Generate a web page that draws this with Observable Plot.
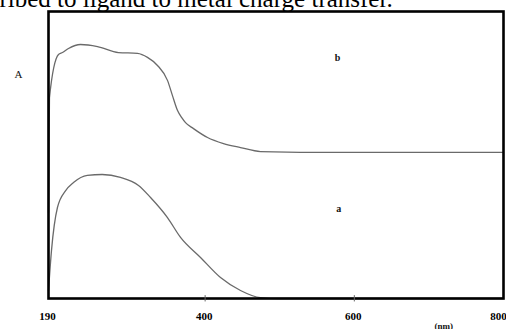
<!DOCTYPE html>
<html>
<head>
<meta charset="utf-8">
<script src="https://cdn.jsdelivr.net/npm/d3@7"></script>
<script src="https://cdn.jsdelivr.net/npm/@observablehq/plot@0.6"></script>
<style>
  html, body { margin: 0; padding: 0; background: #fff; }
  #chart { position: absolute; left: 0; top: 0; }
</style>
</head>
<body>
<div id="chart"></div>
<script>
// Wavelength (nm) and absorbance (arbitrary units)
const curveA_nm = [190, 194, 202, 213, 223.5, 242, 262, 286.5, 310.7, 326.8, 349.5, 367, 393.8, 420.6, 447.4, 474, 500, 800];
const curveA_abs = [0.028, 0.167, 0.317, 0.376, 0.404, 0.429, 0.432, 0.422, 0.394, 0.352, 0.282, 0.213, 0.143, 0.073, 0.028, 0.003, 0, 0];

const curveB_nm = [190, 191.3, 203.4, 208.8, 216.8, 232.9, 255.7, 283.8, 309.3, 322.7, 336.1, 349.5, 356.2, 363, 368.4, 373.7, 384.4, 403.2, 424.6, 447.4, 474.2, 581.5, 800];
const curveB_abs = [0.30, 0.700, 0.850, 0.857, 0.871, 0.885, 0.878, 0.857, 0.854, 0.840, 0.812, 0.760, 0.707, 0.655, 0.631, 0.613, 0.592, 0.561, 0.540, 0.526, 0.512, 0.509, 0.509];

const xTicks = [190, 400, 600, 800];
const seriesLabels = ["a", "b"];
const labelPos_nm = [579, 577.5];
const labelPos_abs = [0.314, 0.84];
const yAxisLabel = "A";
const unitLabel = "(nm)";
const unitPos_nm = 720;
const captionText = "ribed to ligand to metal charge transfer.";

const dataA = curveA_nm.map((x, i) => ({x, y: curveA_abs[i]}));
const dataB = curveB_nm.map((x, i) => ({x, y: curveB_abs[i]}));
const labels = seriesLabels.map((t, i) => ({t, x: labelPos_nm[i], y: labelPos_abs[i]}));

const axisStyle = {tickSize: 0, tickPadding: 14, fontSize: 11, fontWeight: "bold", label: null, tickFormat: d => String(d)};

const chart = Plot.plot({
  width: 506,
  height: 329,
  marginLeft: 48,
  marginRight: 3,
  marginTop: 11,
  marginBottom: 31,
  style: { fontFamily: "Liberation Serif, Times New Roman, serif", background: "#fff", color: "#000", overflow: "hidden" },
  x: { domain: [190, 800] },
  y: { domain: [0, 1], axis: null },
  marks: [
    Plot.line(dataB, {x: "x", y: "y", stroke: "#6a6a6a", strokeWidth: 1.3, curve: "monotone-x"}),
    Plot.line(dataA, {x: "x", y: "y", stroke: "#6a6a6a", strokeWidth: 1.3, curve: "monotone-x"}),
    Plot.frame({stroke: "#000", strokeWidth: 2.6}),
    Plot.ruleX(xTicks.slice(1, 3), {y1: -0.012, y2: 0.01, stroke: "#666", strokeWidth: 1}),
    Plot.axisX({...axisStyle, ticks: xTicks.slice(0, 3), dx: -1}),
    Plot.axisX({...axisStyle, ticks: xTicks.slice(3), dx: -5}),
    Plot.text(labels, {x: "x", y: "y", text: "t", fontSize: 10, fontWeight: "bold", fill: "#111"}),
    Plot.text([yAxisLabel], {frameAnchor: "top-left", dx: -34, dy: 59, fontSize: 11, fill: "#111", text: d => d}),
    Plot.text([unitLabel], {x: [unitPos_nm], frameAnchor: "bottom", dy: 30, fontSize: 9, fontWeight: "bold", fill: "#111", text: d => d}),
    Plot.text([captionText], {frameAnchor: "top-left", dx: -49, dy: -5, lineAnchor: "bottom", textAnchor: "start", fontSize: 25, fill: "#000", text: d => d})
  ]
});
document.getElementById("chart").appendChild(chart);
</script>
</body>
</html>
